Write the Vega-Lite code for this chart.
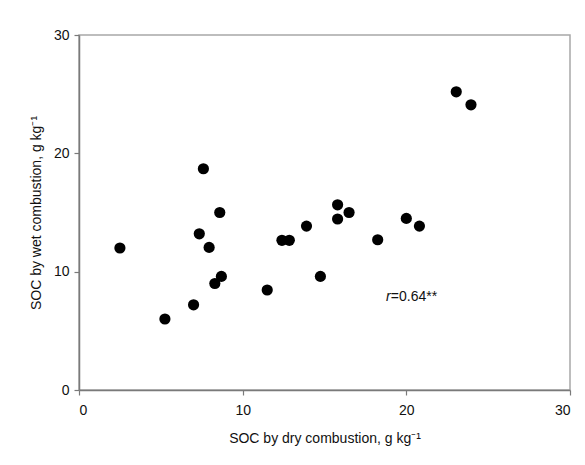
{
  "$schema": "https://vega.github.io/schema/vega-lite/v6.json",
  "width": 491,
  "height": 355,
  "autosize": {"type": "none"},
  "padding": {"left": 79, "top": 35, "right": 15, "bottom": 75},
  "background": "white",
  "config": {
    "font": "Liberation Sans",
    "view": {"stroke": "#a8a8a8", "strokeWidth": 1.5},
    "axis": {
      "grid": false,
      "domainColor": "#7a7a7a",
      "domainWidth": 1.5,
      "tickColor": "#7a7a7a",
      "tickWidth": 1.2,
      "tickSize": 5,
      "labelFont": "Liberation Sans",
      "labelFontSize": 14,
      "labelColor": "#111",
      "titleFont": "Liberation Sans",
      "titleFontSize": 14,
      "titleFontWeight": "normal",
      "titleColor": "#111"
    }
  },
  "data": {
    "values": [
      {"dry": 2.5, "wet": 12.0},
      {"dry": 5.25, "wet": 6.0},
      {"dry": 7.0, "wet": 7.2},
      {"dry": 7.35, "wet": 13.2},
      {"dry": 7.6, "wet": 18.7},
      {"dry": 7.95, "wet": 12.05},
      {"dry": 8.3, "wet": 9.0},
      {"dry": 8.6, "wet": 15.0},
      {"dry": 8.7, "wet": 9.6},
      {"dry": 11.5, "wet": 8.45},
      {"dry": 12.4, "wet": 12.65},
      {"dry": 12.85, "wet": 12.65},
      {"dry": 13.9, "wet": 13.85},
      {"dry": 14.75, "wet": 9.6},
      {"dry": 15.8, "wet": 15.65},
      {"dry": 15.8, "wet": 14.45},
      {"dry": 16.5, "wet": 15.0},
      {"dry": 18.25, "wet": 12.7},
      {"dry": 20.0, "wet": 14.5},
      {"dry": 20.8, "wet": 13.85},
      {"dry": 23.05, "wet": 25.2},
      {"dry": 23.95, "wet": 24.1}
    ]
  },
  "layer": [
    {
      "mark": {"type": "point", "filled": true, "shape": "circle", "color": "black", "size": 125, "opacity": 1},
      "encoding": {
        "x": {
          "field": "dry", "type": "quantitative",
          "scale": {"domain": [0, 30], "nice": false},
          "axis": {"values": [0, 10, 20, 30], "title": "SOC by dry combustion, g kg⁻¹", "labelPadding": 8, "titlePadding": 14}
        },
        "y": {
          "field": "wet", "type": "quantitative",
          "scale": {"domain": [0, 30], "nice": false},
          "axis": {"values": [0, 10, 20, 30], "title": "SOC by wet combustion, g kg⁻¹", "labelPadding": 5, "titlePadding": 10}
        }
      }
    },
    {
      "data": {"values": [{"dry": 18.75, "wet": 7.9, "r": "r"}]},
      "mark": {"type": "text", "align": "left", "baseline": "middle", "fontSize": 14, "fontStyle": "italic", "color": "#111"},
      "encoding": {
        "x": {"field": "dry", "type": "quantitative"},
        "y": {"field": "wet", "type": "quantitative"},
        "text": {"field": "r"}
      }
    },
    {
      "data": {"values": [{"dry": 19.05, "wet": 7.9, "v": "=0.64**"}]},
      "mark": {"type": "text", "align": "left", "baseline": "middle", "fontSize": 14, "color": "#111"},
      "encoding": {
        "x": {"field": "dry", "type": "quantitative"},
        "y": {"field": "wet", "type": "quantitative"},
        "text": {"field": "v"}
      }
    }
  ]
}
